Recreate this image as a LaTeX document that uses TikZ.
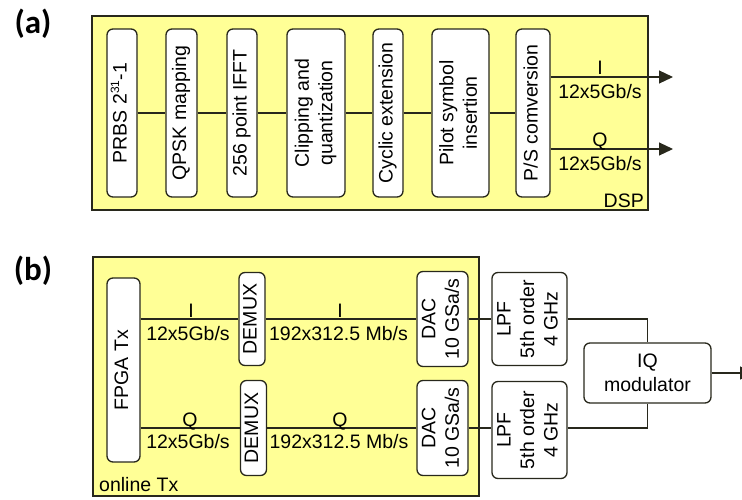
\documentclass[tikz,border=0pt]{standalone}
\usepackage{fontspec}
\setmainfont{Liberation Sans}
\newfontfamily\panelfont{Carlito}
\usepackage{graphicx}
\usetikzlibrary{arrows.meta}
\definecolor{panelfill}{RGB}{255,255,150}
\definecolor{edgecol}{RGB}{40,40,28}
\newcommand{\vtxt}[1]{\rotatebox{90}{\begin{tabular}{@{}c@{}}#1\end{tabular}}}
\begin{document}
\begin{tikzpicture}[x=1pt,y=-1pt,
  font=\fontsize{19.5}{23.5}\selectfont,
  panel/.style={draw=edgecol, line width=1.6pt, fill=panelfill, inner sep=0pt},
  blk/.style={draw=edgecol, line width=1.3pt, fill=white, rounded corners=6pt, inner sep=0pt, align=center},
  wire/.style={draw=edgecol, line width=1.2pt},
  tipwire/.style={wire, -{Triangle[length=14pt,width=13pt]}},
  lbl/.style={inner sep=0pt, anchor=base},
  plbl/.style={inner sep=0pt, font=\panelfont\bfseries\fontsize{33}{35}\selectfont}]
\useasboundingbox (0,0) rectangle (742,499);
\fill[white] (0,0) rectangle (742,499);

% ---------- panel (a)
\node[plbl] (pa) at (33,24) {(a)};
\node[panel, minimum width=556pt, minimum height=194pt] (dsp) at (370,113) {};
\node[blk, minimum width=30pt, minimum height=168pt] (prbs) at (122,113) {\vtxt{PRBS 2\textsuperscript{\fontsize{12}{12}\selectfont 31}-1}};
\node[blk, minimum width=31pt, minimum height=168pt] (qpsk) at (181.5,113) {\vtxt{QPSK mapping}};
\node[blk, minimum width=30pt, minimum height=168pt] (ifft) at (242,113) {\vtxt{256 point IFFT}};
\node[blk, minimum width=58pt, minimum height=168pt] (clip) at (316,113) {\vtxt{Clipping and\\quantization}};
\node[blk, minimum width=30pt, minimum height=168pt] (cyc) at (388,113) {\vtxt{Cyclic extension}};
\node[blk, minimum width=57pt, minimum height=168pt] (pilot) at (460.5,113) {\vtxt{Pilot symbol\\insertion}};
\node[blk, minimum width=34pt, minimum height=168pt] (ps) at (533,113) {\vtxt{P/S comversion}};
\draw[wire] (prbs) -- (qpsk);
\draw[wire] (qpsk) -- (ifft);
\draw[wire] (ifft) -- (clip);
\draw[wire] (clip) -- (cyc);
\draw[wire] (cyc) -- (pilot);
\draw[wire] (pilot) -- (ps);
\coordinate (iend) at (673,77);
\coordinate (qend) at (673,149);
\draw[tipwire] (ps.east |- iend) -- (iend);
\draw[tipwire] (ps.east |- qend) -- (qend);
\node[lbl] (ia) at (600,74) {I};
\node[lbl] (ira) at (600,98) {12x5Gb/s};
\node[lbl] (qa) at (600,146) {Q};
\node[lbl] (qra) at (600,170) {12x5Gb/s};
\node[inner sep=0pt, anchor=base east] (dsplbl) at (644,207) {DSP};

% ---------- panel (b)
\node[plbl] (pb) at (33,271) {(b)};
\node[panel, minimum width=386pt, minimum height=239pt] (onl) at (286,376.5) {};
\node[blk, minimum width=33pt, minimum height=184pt] (fpga) at (123.5,370) {\vtxt{FPGA Tx}};
\node[blk, minimum width=26pt, minimum height=93pt] (dm1) at (252,319) {\vtxt{DEMUX}};
\node[blk, minimum width=26pt, minimum height=95pt] (dm2) at (253.5,428) {\vtxt{DEMUX}};
\node[blk, minimum width=51pt, minimum height=95pt] (dac1) at (442.5,319) {\vtxt{DAC\\10 GSa/s}};
\node[blk, minimum width=51pt, minimum height=95pt] (dac2) at (442.5,428) {\vtxt{DAC\\10 GSa/s}};
\node[blk, minimum width=75pt, minimum height=93pt] (lpf1) at (529.5,319) {\vtxt{LPF\\5th order\\4 GHz}};
\node[blk, minimum width=75pt, minimum height=97pt] (lpf2) at (529.5,430) {\vtxt{LPF\\5th order\\4 GHz}};
\node[blk, minimum width=127pt, minimum height=60pt] (iq) at (647.5,373) {IQ\\modulator};
\draw[wire] (fpga.east |- dm1) -- (dm1);
\draw[wire] (fpga.east |- dm2) -- (dm2);
\draw[wire] (dm1) -- (dac1);
\draw[wire] (dm2) -- (dac2);
\draw[wire] (dac1) -- (lpf1);
\draw[wire] (dac2.east) -- (lpf2.west |- dac2.east);
\draw[wire] (lpf1.east) -| (iq.north);
\draw[wire] (lpf2.east |- dac2.east) -| (iq.south);
\coordinate (rfout) at (754,373);
\draw[tipwire] (iq.east) -- (rfout);
\node[lbl] (ib1) at (191,317) {I};
\node[lbl] (irb1) at (188,340) {12x5Gb/s};
\node[lbl] (ib2) at (340,317) {I};
\node[lbl] (irb2) at (338.5,340) {192x312.5 Mb/s};
\node[lbl] (qb1) at (190,426) {Q};
\node[lbl] (qrb1) at (188,448) {12x5Gb/s};
\node[lbl] (qb2) at (340,426) {Q};
\node[lbl] (qrb2) at (339,448) {192x312.5 Mb/s};
\node[inner sep=0pt, anchor=base west] (onlbl) at (99,491) {online Tx};
\end{tikzpicture}
\end{document}
